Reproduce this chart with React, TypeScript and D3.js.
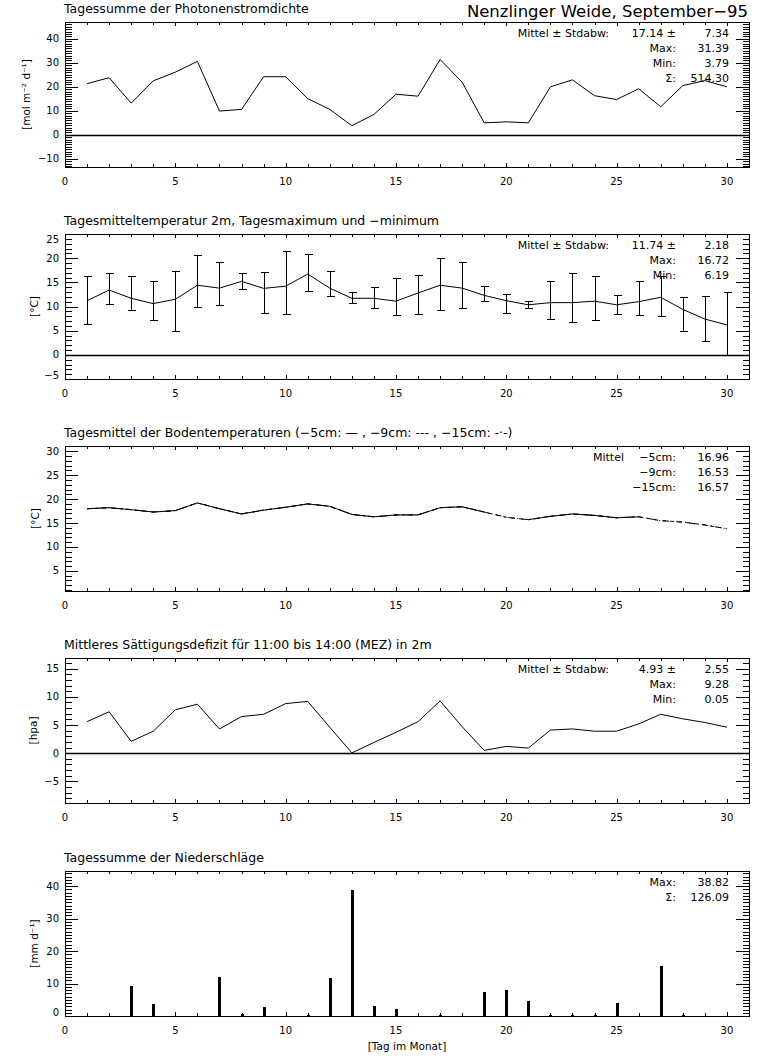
import React from "react";
import * as d3 from "d3";

// ---------- data ----------
const days = [1, 2, 3, 4, 5, 6, 7, 8, 9, 10, 11, 12, 13, 14, 15, 16, 17, 18, 19, 20, 21, 22, 23, 24, 25, 26, 27, 28, 29, 30];

const photonFlux = [21.3, 23.8, 13.2, 22.5, 26.1, 30.6, 9.9, 10.6, 24.2, 24.2, 15.1, 10.6, 3.79, 8.5, 16.9, 16.1, 31.39, 21.9, 5.0, 5.4, 5.0, 20.0, 22.9, 16.3, 14.7, 19.2, 11.7, 20.5, 22.6, 20.0];

const tempMean = [11.2, 13.4, 11.7, 10.6, 11.5, 14.4, 13.8, 15.2, 13.75, 14.2, 16.72, 13.8, 11.7, 11.7, 11.1, 12.8, 14.4, 13.8, 12.3, 11.2, 10.35, 10.8, 10.8, 11.1, 10.35, 11.0, 11.9, 9.4, 7.4, 6.19];
const tempMax = [16.25, 16.9, 16.4, 15.2, 17.4, 20.6, 19.3, 16.9, 17.2, 21.5, 20.8, 17.4, 12.9, 14.0, 16.0, 16.6, 20.1, 19.3, 14.2, 12.6, 11.1, 15.35, 17.0, 16.4, 12.4, 15.35, 16.4, 11.9, 12.1, 12.9];
const tempMin = [6.45, 10.6, 9.2, 7.3, 5.0, 9.8, 10.3, 13.6, 8.75, 8.5, 13.3, 12.1, 10.8, 9.6, 8.2, 8.4, 9.2, 9.6, 11.1, 8.75, 9.6, 7.4, 6.7, 7.15, 8.5, 8.2, 8.0, 5.0, 2.9, -0.1];

const soil5 = [18.0, 18.2, 17.8, 17.3, 17.6, 19.2, 18.0, 16.9, 17.7, 18.3, 19.0, 18.5, 16.8, 16.3, 16.7, 16.7, 18.2, 18.4, 17.3, null, 15.7, 16.4, 16.9, 16.6, 16.1, 16.3, null, null, null, null];
const soil9 = [18.0, 18.2, 17.8, 17.3, 17.6, 19.2, 18.0, 16.9, 17.7, 18.3, 19.0, 18.5, 16.8, 16.3, 16.7, 16.7, 18.2, 18.4, 17.3, 16.2, 15.7, 16.4, 16.9, 16.6, 16.1, 16.3, 15.5, 15.2, 14.6, 13.8];
const soil15 = [18.0, 18.2, 17.8, 17.3, 17.6, 19.2, 18.0, 16.9, 17.7, 18.3, 19.0, 18.5, 16.8, 16.3, 16.7, 16.7, 18.2, 18.4, 17.3, 16.2, 15.7, 16.4, 16.9, 16.6, 16.1, 16.3, 15.5, 15.2, 14.6, 13.8];

const vpd = [5.6, 7.35, 2.1, 3.9, 7.7, 8.7, 4.3, 6.5, 6.9, 8.8, 9.2, 4.6, 0.05, 1.9, 3.7, 5.6, 9.28, 4.7, 0.5, 1.2, 0.9, 4.1, 4.3, 3.9, 3.9, 5.2, 6.9, 6.1, 5.45, 4.6];

const precip = [0, 0, 9.2, 3.55, 0, 0, 12.0, 0.7, 2.9, 0, 0.2, 11.7, 38.82, 3.2, 2.3, 0, 0.4, 0, 7.3, 7.9, 4.5, 0.2, 0.2, 0.4, 3.9, 0, 15.5, 0.2, 0, 0];

const xTickValues = [0, 5, 10, 15, 20, 25, 30];

// ---------- layout ----------
const LEFT = 65;
const RIGHT = 749;
const PH = 145;
const FONT = "'DejaVu Sans', sans-serif";
const xScale = d3.scaleLinear().domain([0, 31]).range([LEFT, RIGHT]);
const LABEL_END = 676;
const VALUE_END = 729;
const MITTEL_END = 609;
const STAT_SIZE = 11;

type Part = { text: string; x: number };

const px = (v: number) => Math.round(v) + 0.5;

function Panel(props: {
  top: number;
  domain: [number, number];
  major: number;
  title: string;
  ytitle: React.ReactNode;
  ytitleX: number;
  zero?: boolean;
  stats: Part[][];
  xTitle?: string;
  children: (y: d3.ScaleLinear<number, number>) => React.ReactNode;
}) {
  const { top, domain, major, title, ytitle, ytitleX, zero, stats, xTitle, children } = props;
  const bottom = top + PH;
  const y = d3.scaleLinear().domain(domain).range([bottom, top]);
  const minors = d3.range(Math.ceil(domain[0]), Math.floor(domain[1]) + 1);
  const majors = minors.filter((v) => v % major === 0);
  const xMinor = d3.range(0, 32);
  return (
    <g>
      <text x={LEFT - 1} y={top - 14} fontFamily={FONT} fontSize={12.5} dominantBaseline="central">
        {title}
      </text>
      {children(y)}
      {zero && (
        <line x1={LEFT} x2={RIGHT} y1={px(y(0))} y2={px(y(0))} stroke="#000" strokeWidth={1.6} />
      )}
      <g shapeRendering="crispEdges" stroke="#000" strokeWidth={1}>
        <rect x={LEFT + 0.5} y={top + 0.5} width={RIGHT - LEFT} height={PH} fill="none" />
        {minors.map((v) => {
          const len = v % major === 0 ? 13 : 6.5;
          const yy = px(y(v));
          return (
            <g key={"yt" + v}>
              <line x1={LEFT} x2={LEFT + len} y1={yy} y2={yy} />
              <line x1={RIGHT - len} x2={RIGHT} y1={yy} y2={yy} />
            </g>
          );
        })}
        {xMinor.map((d) => {
          const len = d % 5 === 0 ? 4 : 3;
          const xx = px(xScale(d));
          return (
            <g key={"xt" + d}>
              <line x1={xx} x2={xx} y1={top} y2={top + len} />
              <line x1={xx} x2={xx} y1={bottom - len} y2={bottom} />
            </g>
          );
        })}
      </g>
      {majors.map((v) => {
        let yy = y(v);
        yy = Math.max(top + 5, Math.min(bottom - 4, yy));
        return (
          <text key={"yl" + v} x={59} y={yy} textAnchor="end" dominantBaseline="central" fontFamily={FONT} fontSize={10}>
            {v < 0 ? "\u2212" + Math.abs(v) : String(v)}
          </text>
        );
      })}
      {xTickValues.map((d) => (
        <text key={"xl" + d} x={xScale(d)} y={bottom + 14} textAnchor="middle" dominantBaseline="central" fontFamily={FONT} fontSize={10}>
          {String(d)}
        </text>
      ))}
      <text
        transform={`translate(${ytitleX},${top + PH / 2}) rotate(-90)`}
        textAnchor="middle"
        dominantBaseline="central"
        fontFamily={FONT}
        fontSize={10.5}
      >
        {ytitle}
      </text>
      {stats.map((row, i) =>
        row.map((p, j) => (
          <text key={`s${i}-${j}`} x={p.x} y={top + 11 + 15 * i} textAnchor="end" dominantBaseline="central" fontFamily={FONT} fontSize={STAT_SIZE}>
            {p.text}
          </text>
        ))
      )}
      {xTitle && (
        <text x={(LEFT + RIGHT) / 2} y={bottom + 30} textAnchor="middle" dominantBaseline="central" fontFamily={FONT} fontSize={10.5}>
          {xTitle}
        </text>
      )}
    </g>
  );
}

export default function App() {
  const lineOf = (vals: (number | null)[], y: d3.ScaleLinear<number, number>) =>
    d3
      .line<number | null>()
      .defined((v) => v != null)
      .x((_, i) => xScale(days[i]))
      .y((v) => y(v as number))(vals) || "";

  return (
    <svg width={768} height={1060} style={{ position: "absolute", left: 0, top: 0, background: "#fff" }}>
      <rect x={0} y={0} width={768} height={1060} fill="#fff" />
      <text x={748} y={11} textAnchor="end" dominantBaseline="central" fontFamily={FONT} fontSize={16.5}>
        Nenzlinger Weide, September−95
      </text>

      <Panel
        top={22}
        domain={[-13.4, 47]}
        major={10}
        title="Tagessumme der Photonenstromdichte"
        ytitle={"[mol m⁻² d⁻¹]"}
        ytitleX={26}
        zero
        stats={[
          [
            { text: "Mittel ± Stdabw:", x: MITTEL_END },
            { text: "17.14 ±", x: LABEL_END },
            { text: "7.34", x: VALUE_END },
          ],
          [{ text: "Max:", x: LABEL_END }, { text: "31.39", x: VALUE_END }],
          [{ text: "Min:", x: LABEL_END }, { text: "3.79", x: VALUE_END }],
          [{ text: "Σ:", x: LABEL_END }, { text: "514.30", x: VALUE_END }],
        ]}
      >
        {(y) => <path d={lineOf(photonFlux, y)} fill="none" stroke="#000" strokeWidth={1} />}
      </Panel>

      <Panel
        top={234}
        domain={[-5, 25]}
        major={5}
        title="Tagesmitteltemperatur 2m, Tagesmaximum und −minimum"
        ytitle="[°C]"
        ytitleX={34}
        zero
        stats={[
          [
            { text: "Mittel ± Stdabw:", x: MITTEL_END },
            { text: "11.74 ±", x: LABEL_END },
            { text: "2.18", x: VALUE_END },
          ],
          [{ text: "Max:", x: LABEL_END }, { text: "16.72", x: VALUE_END }],
          [{ text: "Min:", x: LABEL_END }, { text: "6.19", x: VALUE_END }],
        ]}
      >
        {(y) => (
          <g>
            <path d={lineOf(tempMean, y)} fill="none" stroke="#000" strokeWidth={1} />
            <g stroke="#000" strokeWidth={1.2} shapeRendering="crispEdges">
              {days.map((d, i) => {
                const xx = px(xScale(d));
                const yt = px(y(tempMax[i]));
                const yb = px(y(tempMin[i]));
                return (
                  <g key={"eb" + d}>
                    <line x1={xx} x2={xx} y1={yt} y2={yb} />
                    <line x1={xx - 4} x2={xx + 4} y1={yt} y2={yt} />
                    <line x1={xx - 4} x2={xx + 4} y1={yb} y2={yb} />
                  </g>
                );
              })}
            </g>
          </g>
        )}
      </Panel>

      <Panel
        top={446}
        domain={[0.8, 31.1]}
        major={5}
        title="Tagesmittel der Bodentemperaturen (−5cm: — , −9cm: --- , −15cm: -·-)"
        ytitle="[°C]"
        ytitleX={35}
        stats={[
          [
            { text: "Mittel", x: 624 },
            { text: "−5cm:", x: LABEL_END },
            { text: "16.96", x: VALUE_END },
          ],
          [{ text: "−9cm:", x: LABEL_END }, { text: "16.53", x: VALUE_END }],
          [{ text: "−15cm:", x: LABEL_END }, { text: "16.57", x: VALUE_END }],
        ]}
      >
        {(y) => (
          <g>
            <path d={lineOf(soil15, y)} fill="none" stroke="#000" strokeWidth={1} strokeDasharray="6,3,1,3" />
            <path d={lineOf(soil9, y)} fill="none" stroke="#000" strokeWidth={1} strokeDasharray="4,4" />
            <path d={lineOf(soil5, y)} fill="none" stroke="#000" strokeWidth={1} />
          </g>
        )}
      </Panel>

      <Panel
        top={658}
        domain={[-8.85, 16.9]}
        major={5}
        title="Mittleres Sättigungsdefizit für 11:00 bis 14:00 (MEZ) in 2m"
        ytitle="[hpa]"
        ytitleX={33}
        zero
        stats={[
          [
            { text: "Mittel ± Stdabw:", x: MITTEL_END },
            { text: "4.93 ±", x: LABEL_END },
            { text: "2.55", x: VALUE_END },
          ],
          [{ text: "Max:", x: LABEL_END }, { text: "9.28", x: VALUE_END }],
          [{ text: "Min:", x: LABEL_END }, { text: "0.05", x: VALUE_END }],
        ]}
      >
        {(y) => <path d={lineOf(vpd, y)} fill="none" stroke="#000" strokeWidth={1} />}
      </Panel>

      <Panel
        top={871}
        domain={[0, 44.7]}
        major={10}
        title="Tagessumme der Niederschläge"
        ytitle={"[mm d⁻¹]"}
        ytitleX={34}
        xTitle="[Tag im Monat]"
        stats={[
          [{ text: "Max:", x: LABEL_END }, { text: "38.82", x: VALUE_END }],
          [{ text: "Σ:", x: LABEL_END }, { text: "126.09", x: VALUE_END }],
        ]}
      >
        {(y) => (
          <g shapeRendering="crispEdges">
            {days.map((d, i) =>
              precip[i] > 0 ? (
                <rect
                  key={"pb" + d}
                  x={Math.round(xScale(d)) - 1}
                  y={y(precip[i])}
                  width={3}
                  height={y(0) - y(precip[i])}
                  fill="#000"
                />
              ) : null
            )}
          </g>
        )}
      </Panel>
    </svg>
  );
}
